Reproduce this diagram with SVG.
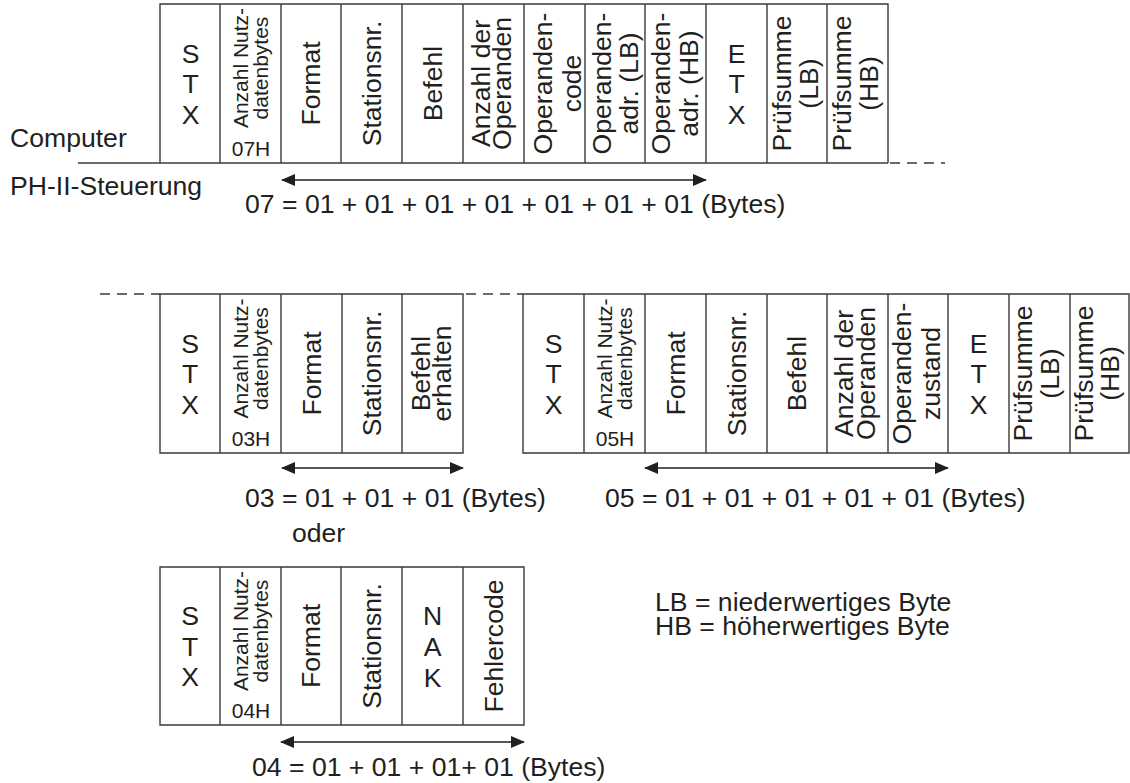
<svg xmlns="http://www.w3.org/2000/svg" width="1130" height="783" viewBox="0 0 1130 783">
<defs>
<style>
text{font-family:"Liberation Sans",Arial,sans-serif;fill:#231f20;font-size:26.6px}
.m{text-anchor:middle}
.s{font-size:21px;text-anchor:middle}
.cell{fill:none;stroke:#3a3a3a;stroke-width:1.4}
.ln{fill:none;stroke:#3a3a3a;stroke-width:1.4}
.dash{fill:none;stroke:#3a3a3a;stroke-width:1.4;stroke-dasharray:10 7}
.arr{fill:none;stroke:#231f20;stroke-width:1.6;marker-start:url(#ah);marker-end:url(#ah)}
</style>
<marker id="ah" viewBox="0 0 14 12" refX="13" refY="6" markerWidth="14" markerHeight="12" markerUnits="userSpaceOnUse" orient="auto-start-reverse"><path d="M0,0 L14,6 L0,12 z" fill="#231f20"/></marker>
</defs>
<rect width="1130" height="783" fill="#fff"/>

<g id="labels">
<text x="10" y="147">Computer</text>
<text x="10" y="195">PH-II-Steuerung</text>
<text x="245" y="213">07 = 01 + 01 + 01 + 01 + 01 + 01 + 01 (Bytes)</text>
<text x="245" y="507">03 = 01 + 01 + 01 (Bytes)</text>
<text x="605" y="507">05 = 01 + 01 + 01 + 01 + 01 (Bytes)</text>
<text x="292" y="542">oder</text>
<text x="252" y="776">04 = 01 + 01 + 01+ 01 (Bytes)</text>
<text x="655" y="611">LB = niederwertiges Byte</text>
<text x="655" y="635">HB = höherwertiges Byte</text>
</g>

<g id="connectors">
<line class="ln" x1="78" y1="163" x2="888" y2="163"/>
<line class="dash" x1="890" y1="163" x2="945" y2="163"/>
<line class="dash" x1="100" y1="294" x2="160" y2="294"/>
<line class="dash" x1="466" y1="294" x2="523" y2="294"/>
<line class="arr" x1="282" y1="180" x2="706" y2="180"/>
<line class="arr" x1="282" y1="468" x2="463" y2="468"/>
<line class="arr" x1="645" y1="468" x2="948" y2="468"/>
<line class="arr" x1="281" y1="742" x2="524" y2="742"/>
</g>

<g id="frame-computer">
<path class="cell" d="M160,163 V4 H888 V163 M220,4 V163 M281,4 V163 M341,4 V163 M402,4 V163 M463,4 V163 M524,4 V163 M585,4 V163 M645,4 V163 M706,4 V163 M767,4 V163 M827,4 V163"/>
<g id="c1-stx"><text class="m" x="190.5" y="62.5">S</text><text class="m" x="190.5" y="93">T</text><text class="m" x="190.5" y="123.5">X</text></g>
<g id="c1-anzahl"><text class="s" transform="translate(248,68) rotate(-90)">Anzahl Nutz-</text><text class="s" transform="translate(268,68) rotate(-90)">datenbytes</text><text class="s" x="251" y="156">07H</text></g>
<g id="c1-format"><text class="m" transform="translate(320,83.5) rotate(-90)">Format</text></g>
<g id="c1-station"><text class="m" transform="translate(380.5,83.5) rotate(-90)">Stationsnr.</text></g>
<g id="c1-befehl"><text class="m" transform="translate(441.5,83.5) rotate(-90)">Befehl</text></g>
<g id="c1-anzop"><text class="m" transform="translate(490,83.5) rotate(-90)">Anzahl der</text><text class="m" transform="translate(511,83.5) rotate(-90)">Operanden</text></g>
<g id="c1-opcode"><text class="m" transform="translate(552,83.5) rotate(-90)">Operanden-</text><text class="m" transform="translate(581,83.5) rotate(-90)">code</text></g>
<g id="c1-oplb"><text class="m" transform="translate(611,83.5) rotate(-90)">Operanden-</text><text class="m" transform="translate(638,83.5) rotate(-90)">adr. (LB)</text></g>
<g id="c1-ophb"><text class="m" transform="translate(670,83.5) rotate(-90)">Operanden-</text><text class="m" transform="translate(698,83.5) rotate(-90)">adr. (HB)</text></g>
<g id="c1-etx"><text class="m" x="736.5" y="62.5">E</text><text class="m" x="736.5" y="93">T</text><text class="m" x="736.5" y="123.5">X</text></g>
<g id="c1-pslb"><text class="m" transform="translate(791,83.5) rotate(-90)">Prüfsumme</text><text class="m" transform="translate(818,83.5) rotate(-90)">(LB)</text></g>
<g id="c1-pshb"><text class="m" transform="translate(851,83.5) rotate(-90)">Prüfsumme</text><text class="m" transform="translate(878,83.5) rotate(-90)">(HB)</text></g>
</g>

<g id="frame-ack">
<path class="cell" d="M160,294 H463 V453 H160 Z M220,294 V453 M281,294 V453 M342,294 V453 M402,294 V453"/>
<g id="c2-stx"><text class="m" x="190" y="352.5">S</text><text class="m" x="190" y="383">T</text><text class="m" x="190" y="413.5">X</text></g>
<g id="c2-anzahl"><text class="s" transform="translate(248,358.5) rotate(-90)">Anzahl Nutz-</text><text class="s" transform="translate(268,358.5) rotate(-90)">datenbytes</text><text class="s" x="251" y="446">03H</text></g>
<g id="c2-format"><text class="m" transform="translate(320.5,373.5) rotate(-90)">Format</text></g>
<g id="c2-station"><text class="m" transform="translate(381,373.5) rotate(-90)">Stationsnr.</text></g>
<g id="c2-befehl"><text class="m" transform="translate(430,373.5) rotate(-90)">Befehl</text><text class="m" transform="translate(451,373.5) rotate(-90)">erhalten</text></g>
</g>

<g id="frame-response">
<path class="cell" d="M523,294 H1129 V453 H523 Z M584,294 V453 M645,294 V453 M706,294 V453 M767,294 V453 M827,294 V453 M888,294 V453 M948,294 V453 M1009,294 V453 M1070,294 V453"/>
<g id="c3-stx"><text class="m" x="553.5" y="352.5">S</text><text class="m" x="553.5" y="383">T</text><text class="m" x="553.5" y="413.5">X</text></g>
<g id="c3-anzahl"><text class="s" transform="translate(612,358.5) rotate(-90)">Anzahl Nutz-</text><text class="s" transform="translate(632,358.5) rotate(-90)">datenbytes</text><text class="s" x="615" y="446">05H</text></g>
<g id="c3-format"><text class="m" transform="translate(684.5,373.5) rotate(-90)">Format</text></g>
<g id="c3-station"><text class="m" transform="translate(745.5,373.5) rotate(-90)">Stationsnr.</text></g>
<g id="c3-befehl"><text class="m" transform="translate(806,373.5) rotate(-90)">Befehl</text></g>
<g id="c3-anzop"><text class="m" transform="translate(853,373.5) rotate(-90)">Anzahl der</text><text class="m" transform="translate(875,373.5) rotate(-90)">Operanden</text></g>
<g id="c3-opzu"><text class="m" transform="translate(911,373.5) rotate(-90)">Operanden-</text><text class="m" transform="translate(940,373.5) rotate(-90)">zustand</text></g>
<g id="c3-etx"><text class="m" x="978.5" y="352.5">E</text><text class="m" x="978.5" y="383">T</text><text class="m" x="978.5" y="413.5">X</text></g>
<g id="c3-pslb"><text class="m" transform="translate(1032,373.5) rotate(-90)">Prüfsumme</text><text class="m" transform="translate(1059,373.5) rotate(-90)">(LB)</text></g>
<g id="c3-pshb"><text class="m" transform="translate(1093,373.5) rotate(-90)">Prüfsumme</text><text class="m" transform="translate(1119,373.5) rotate(-90)">(HB)</text></g>
</g>

<g id="frame-nak">
<path class="cell" d="M160,567 H524 V725 H160 Z M220,567 V725 M281,567 V725 M341,567 V725 M402,567 V725 M463,567 V725"/>
<g id="c4-stx"><text class="m" x="190" y="625">S</text><text class="m" x="190" y="655.5">T</text><text class="m" x="190" y="686">X</text></g>
<g id="c4-anzahl"><text class="s" transform="translate(248,631) rotate(-90)">Anzahl Nutz-</text><text class="s" transform="translate(268,631) rotate(-90)">datenbytes</text><text class="s" x="251" y="718">04H</text></g>
<g id="c4-format"><text class="m" transform="translate(320,646) rotate(-90)">Format</text></g>
<g id="c4-station"><text class="m" transform="translate(380.5,646) rotate(-90)">Stationsnr.</text></g>
<g id="c4-nak"><text class="m" x="432.5" y="625">N</text><text class="m" x="432.5" y="656">A</text><text class="m" x="432.5" y="687">K</text></g>
<g id="c4-fehler"><text class="m" transform="translate(502.5,646) rotate(-90)">Fehlercode</text></g>
</g>
</svg>
